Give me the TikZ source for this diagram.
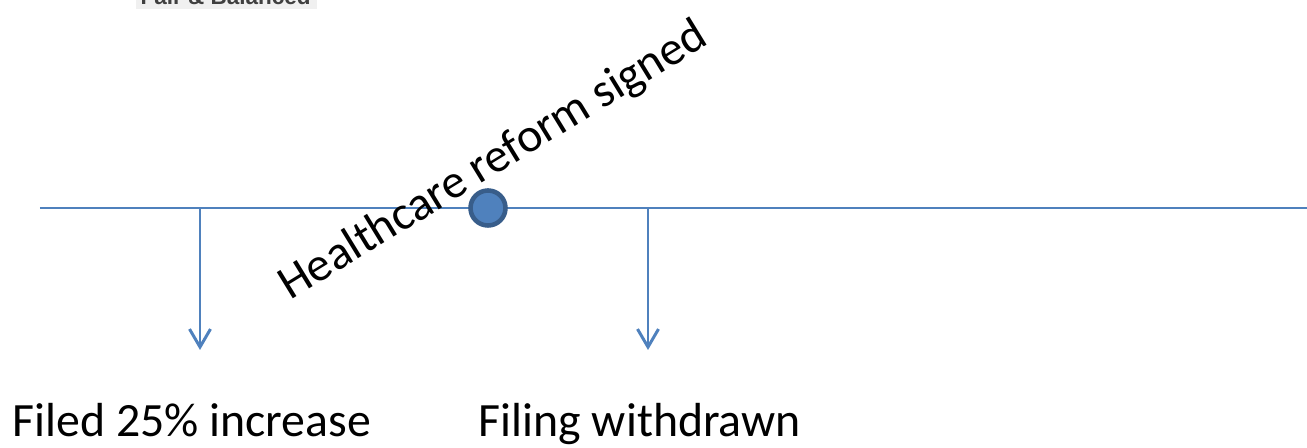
\documentclass[tikz,border=0pt]{standalone}
\usepackage{fontspec}
\setmainfont{Carlito}
\newfontfamily\logofont{Liberation Sans}
\usepackage{xcolor}
\usetikzlibrary{arrows.meta}
\definecolor{lineblue}{HTML}{4F81BD}
\definecolor{dotrim}{HTML}{385D8A}

\tikzset{
  timeline/.style={lineblue, line width=0.65pt},
  drop/.style={lineblue, line width=0.85pt, -{Straight Barb[length=1.8mm,width=2.1mm]}},
  event/.style={circle, fill=lineblue, draw=dotrim, line width=1.3pt, minimum size=0.35cm, inner sep=0pt},
  eventtext/.style={inner sep=0pt, font=\fontsize{13.6}{16}\selectfont}
}

\begin{document}
\begin{tikzpicture}

\useasboundingbox (0,0) rectangle (13.07,-4.48);

% logo cut off at the top edge
\begin{scope}
\clip (0,0) rectangle (13.07,-4.48);
\fill[gray!12] (1.36,0.1) rectangle (3.17,-0.09);
\node[anchor=base west, inner sep=0pt, text=black!75, font=\logofont\bfseries\fontsize{6.4}{7}\selectfont] (logo) at (1.40,-0.045) {Fair \& Balanced};
\end{scope}

\coordinate (tl-west) at (0.40,-2.08);
\coordinate (tl-east) at (13.07,-2.08);
\draw[timeline] (tl-west)--(tl-east);

\coordinate (drop1) at (2.00,-2.08);
\coordinate (tip1) at (2.00,-3.50);
\coordinate (drop2) at (6.48,-2.08);
\coordinate (tip2) at (6.48,-3.50);
\draw[drop] (drop1)--(tip1);
\draw[drop] (drop2)--(tip2);

\node[event] (reform) at (4.88,-2.08) {};

\node[eventtext, anchor=base west, rotate=31.5] (reform-text) at (2.90,-3.01) {Healthcare reform signed};
\node[eventtext, anchor=base west] (filed) at (0.12,-4.37) {Filed 25\% increase};
\node[eventtext, anchor=base west] (withdrawn) at (4.78,-4.37) {Filing withdrawn};

\end{tikzpicture}
\end{document}
